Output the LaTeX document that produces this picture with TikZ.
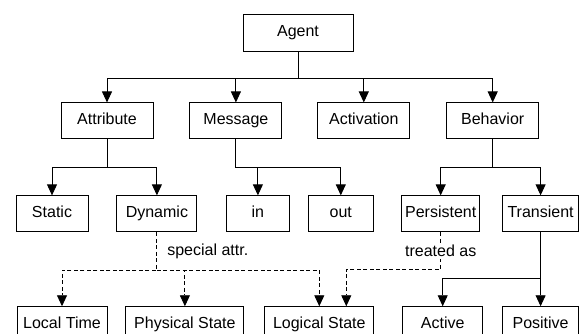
\documentclass[tikz,border=0pt]{standalone}
\usepackage{fontspec}
\setmainfont{Liberation Sans}
\usetikzlibrary{arrows.meta,positioning}

\begin{document}
\begin{tikzpicture}[
    node distance=36pt,
    box/.style={rectangle, draw, line width=0.9pt, minimum width=92pt, minimum height=36pt, inner sep=2pt, text height=11.5pt, text depth=3.5pt, align=center, font=\fontsize{16pt}{18pt}\selectfont},
    arrow/.style={-{Triangle[length=11pt, width=10pt]}, line width=0.9pt},
    dasharrow/.style={arrow, dash pattern=on 4pt off 2.5pt},
    lbl/.style={font=\fontsize{16pt}{18pt}\selectfont, inner sep=2pt},
]
\useasboundingbox (0,0) rectangle (581pt,-334pt);

% === ROOT ===
\node[box, minimum width=110pt, minimum height=37pt] (agent) at (298pt,-32.5pt) {Agent};

% === SECOND LEVEL ===
\node[box, below=51pt of agent, xshift=-191pt] (attr) {Attribute};
\node[box, right=36pt of attr] (msg) {Message};
\node[box, right=35pt of msg] (activ) {Activation};
\node[box, right=36pt of activ] (behav) {Behavior};

% === THIRD LEVEL ===
\node[box, minimum width=72pt, below=56pt of attr, xshift=-55pt] (static) {Static};
\node[box, minimum width=80pt, right=28pt of static] (dyn) {Dynamic};
\node[box, minimum width=63pt, below=56pt of msg, xshift=22pt] (in) {in};
\node[box, minimum width=65pt, right=18pt of in] (out) {out};
\node[box, minimum width=78pt, below=56pt of behav, xshift=-52pt] (persist) {Persistent};
\node[box, minimum width=76pt, right=22pt of persist] (trans) {Transient};

% === FOURTH LEVEL ===
\node[box, minimum width=90pt, below=74pt of static, xshift=10pt] (ltime) {Local Time};
\node[box, minimum width=118pt, right=18pt of ltime] (phys) {Physical State};
\node[box, minimum width=109pt, right=20pt of phys] (logic) {Logical State};
\node[box, minimum width=80pt, below=74pt of persist, xshift=2pt] (active) {Active};
\node[box, minimum width=76pt, right=19pt of active] (pos) {Positive};

% === BUS POINTS ===
\coordinate[below=27pt of agent] (agentbus);
\coordinate[below=28pt of attr] (attrbus);
\coordinate[below=28pt of msg] (msgbus);
\coordinate[below=28pt of behav] (behavbus);
\coordinate[below=38pt of dyn] (dynbus);
\coordinate[below=37pt of persist] (persbus);
\coordinate[below=46pt of trans] (transbus);

% === ARROWS ===
\draw[arrow] (agent) -- (agentbus) -| (attr);
\draw[arrow] (agentbus) -| (msg);
\draw[arrow] (agentbus) -| (activ);
\draw[arrow] (agentbus) -| (behav);

\draw[arrow] (attr) -- (attrbus) -| (static);
\draw[arrow] (attrbus) -| (dyn);
\draw[arrow] (msg) -- (msgbus) -| (in);
\draw[arrow] (msgbus) -| (out);
\draw[arrow] (behav) -- (behavbus) -| (persist);
\draw[arrow] (behavbus) -| (trans);

\draw[dasharrow] (dyn) -- node[lbl, right=8pt] {special attr.} (dynbus) -| (ltime);
\draw[dasharrow] (dynbus) -| (phys);
\draw[dasharrow] (dynbus) -| (logic);
\draw[dasharrow] (persist) -- node[lbl, fill=white] {treated as} (persbus) -| ([xshift=27pt]logic.north);

\draw[arrow] (trans) -- (transbus) -| (active);
\draw[arrow] (transbus) -- (pos);

\end{tikzpicture}
\end{document}
